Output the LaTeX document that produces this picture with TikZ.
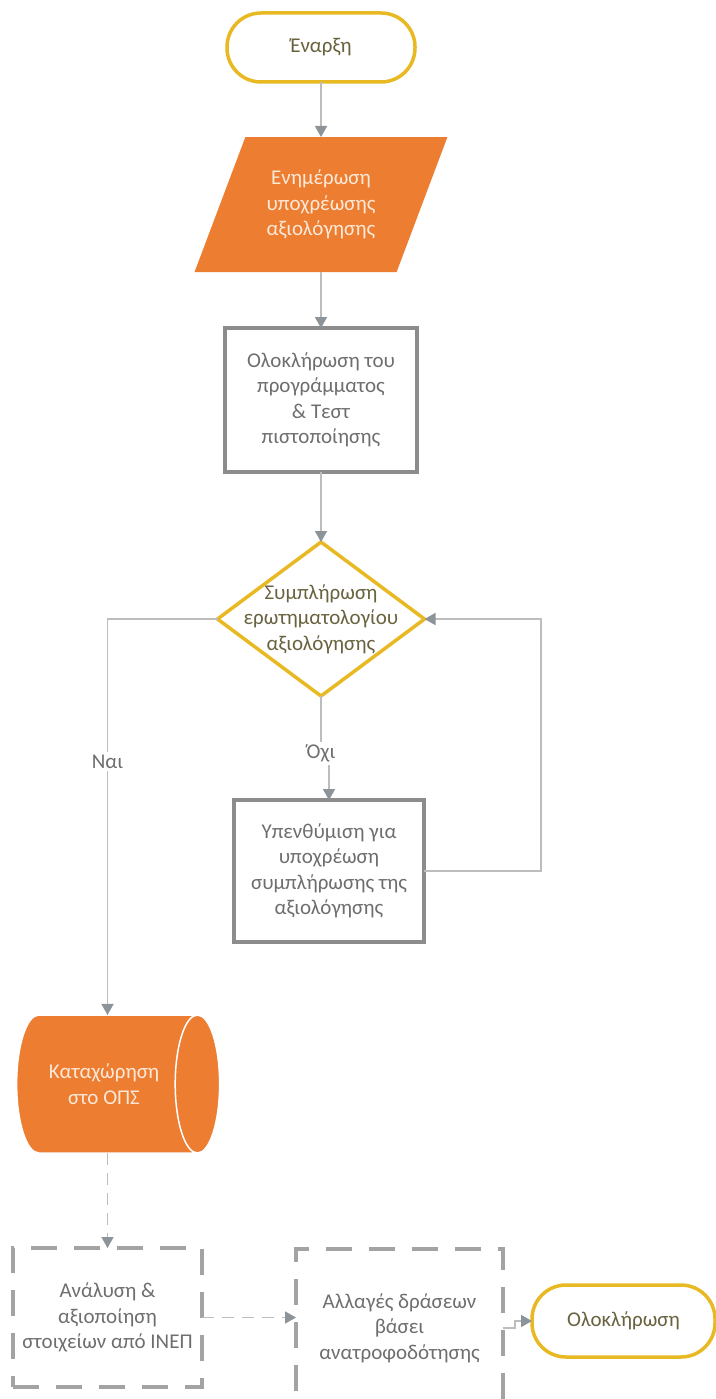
\documentclass[tikz,border=0pt]{standalone}
\usepackage{fontspec}
\setmainfont{Carlito}
\usepackage{tikz}
\usetikzlibrary{arrows.meta,positioning,shapes.geometric}
\definecolor{gold}{HTML}{E8B923}
\definecolor{orng}{HTML}{ED7D31}
\definecolor{boxgray}{HTML}{8C8C8C}
\definecolor{dashgray}{HTML}{A3A3A3}
\definecolor{linegray}{HTML}{BDBDBD}
\definecolor{tipgray}{HTML}{8C949A}
\definecolor{txtgray}{HTML}{6E6E6E}
\definecolor{txtgold}{HTML}{69623F}
\definecolor{txtorng}{HTML}{FDE9D9}

\begin{document}
\begin{tikzpicture}[x=1pt,y=1pt,node distance=55pt,
      font=\fontsize{21}{25.5}\selectfont,
      every node/.style={align=center,inner sep=2pt,outer sep=0pt},
      term node/.style={rectangle,rounded corners=34pt,draw=gold,line width=3.5pt,
        fill=white,text=txtgold,minimum width=188pt,minimum height=69pt},
      io node/.style={trapezium,trapezium left angle=62.6,trapezium right angle=117.4,
        trapezium stretches=true,fill=orng,text=txtorng,minimum width=253pt,minimum height=135pt},
      proc node/.style={rectangle,draw=boxgray,line width=3.5pt,text=txtgray},
      dec node/.style={diamond,draw=gold,line width=3.5pt,minimum width=207pt,minimum height=154pt},
      db node/.style={cylinder,shape border rotate=0,aspect=1,draw=white,line width=1.5pt,
        fill=orng,text=txtorng,minimum width=138pt,minimum height=203pt},
      dash node/.style={rectangle,draw=dashgray,line width=4pt,dash pattern=on 26pt off 17pt,text=txtgray},
      lbl/.style={fill=white,text=txtgray,inner sep=3pt},
      flow/.style={draw=linegray,line width=1.6pt,-{Triangle[length=11pt,width=12pt,color=tipgray]}},
      dflow/.style={flow,dash pattern=on 12pt off 8pt}]

      \useasboundingbox (0,0) rectangle (715,-1399);

      \node[term node] (start) at (321,-47.5) {Έναρξη};
      \node[io node] (inform) [below=55pt of start] {Ενημέρωση\\υποχρέωσης\\αξιολόγησης};
      \node[proc node,minimum width=192pt,minimum height=144pt] (course) [below=56pt of inform]
        {Ολοκλήρωση του\\προγράμματος\\\& Τεστ\\πιστοποίησης};
      \node[dec node] (quest) [below=70pt of course,
        label={[align=center,text=txtgold]center:Συμπλήρωση\\ερωτηματολογίου\\αξιολόγησης}] {};
      \node[lbl] (no) [below=46pt of quest] {Όχι};
      \node[proc node,minimum width=190pt,minimum height=142pt] (remind) [below=104pt of quest,xshift=8pt]
        {Υπενθύμιση για\\υποχρέωση\\συμπλήρωσης της\\αξιολόγησης};
      \node[db node] (ops) at (104,-1084) {Καταχώρηση\\στο ΟΠΣ};
      \node[dash node,minimum width=189pt,minimum height=139pt] (inep) at (107.5,-1317.5)
        {Ανάλυση \&\\αξιοποίηση\\στοιχείων από ΙΝΕΠ};
      \node[dash node,minimum width=207pt,minimum height=158pt] (change) at (399.5,-1328)
        {Αλλαγές δράσεων\\βάσει\\ανατροφοδότησης};
      \node[term node] (finish) at (623.5,-1321) [minimum width=183pt,minimum height=72pt] {Ολοκλήρωση};

      \path (start) edge[flow] (inform)
      (inform) edge[flow] (course)
      (course) edge[flow] (quest);
      \draw[draw=linegray,line width=1.6pt] (quest.south) -- (no.north);
      \draw[flow] (no.south -| remind.north) -- (remind.north);
      \draw[flow] (remind.east) -- ++(117,0) |- (quest.east);
      \draw[flow] (quest.west) -| node[lbl,pos=0.68] {Ναι} (ops.north -| inep.north);
      \draw[dflow] (ops.south -| inep.north) -- (inep.north);
      \draw[dflow] (inep.east) -- (inep.east -| change.west);
      \draw[flow] (change.east) -- ++(12,0) |- (finish.west);
    \end{tikzpicture}
\end{document}
